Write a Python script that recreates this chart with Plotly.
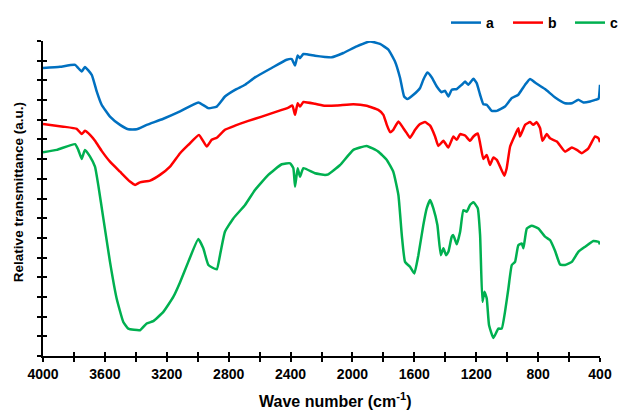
import plotly.graph_objects as go

# Wavenumber (cm-1) and relative transmittance (a.u.)
wn_a = [4000, 3890, 3793, 3750, 3729, 3685, 3653, 3621, 3567, 3502, 3449, 3394, 3330, 3222, 3114,
        2996, 2931, 2877, 2824, 2759, 2694, 2630, 2522, 2425, 2392, 2371, 2354, 2339, 2317, 2242,
        2177, 2134, 2059, 1972, 1886, 1822, 1768, 1725, 1692, 1666, 1645, 1606, 1563, 1542, 1516,
        1487, 1455, 1423, 1401, 1380, 1358, 1326, 1293, 1272, 1251, 1218, 1197, 1175, 1154, 1132,
        1100, 1067, 1014, 970, 928, 906, 884, 852, 820, 755, 690, 626, 582, 540, 507, 464, 432, 410, 400]
t_a = [14.63, 14.69, 14.79, 14.45, 14.68, 14.28, 13.44, 12.76, 12.16, 11.74, 11.52, 11.52, 11.74, 12.05, 12.42,
       12.88, 12.59, 12.67, 13.18, 13.52, 13.78, 14.15, 14.63, 15.05, 15.08, 14.76, 15.27, 15.13, 15.34, 15.25,
       15.19, 15.17, 15.39, 15.73, 15.98, 15.85, 15.56, 14.96, 14.12, 13.18, 13.05, 13.27, 13.61, 14.03, 14.40,
       14.15, 13.69, 13.40, 13.47, 13.18, 13.52, 13.56, 13.78, 13.94, 13.78, 14.08, 13.86, 13.27, 12.79, 12.76,
       12.45, 12.45, 12.67, 13.10, 13.27, 13.52, 13.78, 14.07, 13.89, 13.56, 13.13, 12.84, 12.84, 13.01, 12.88,
       12.93, 13.01, 13.06, 13.78]

wn_b = [4000, 3869, 3782, 3750, 3729, 3696, 3664, 3621, 3567, 3502, 3438, 3405, 3373, 3308, 3244, 3179,
        3114, 3061, 2992, 2942, 2910, 2877, 2824, 2759, 2673, 2586, 2500, 2414, 2388, 2371, 2354, 2339,
        2317, 2242, 2177, 2101, 1994, 1908, 1833, 1800, 1778, 1757, 1736, 1703, 1671, 1649, 1628, 1595,
        1563, 1531, 1498, 1466, 1445, 1412, 1380, 1348, 1326, 1304, 1272, 1240, 1218, 1190, 1175, 1154,
        1132, 1111, 1089, 1067, 1046, 1018, 1003, 981, 949, 928, 917, 884, 852, 831, 809, 787, 772, 744,
        723, 679, 626, 582, 550, 518, 475, 432, 410, 400]
t_b = [11.78, 11.65, 11.54, 11.27, 11.44, 11.23, 10.93, 10.42, 9.87, 9.36, 8.86, 8.69, 8.82, 8.91, 9.20, 9.62,
       10.30, 10.72, 11.23, 10.64, 10.98, 11.09, 11.49, 11.70, 11.94, 12.16, 12.39, 12.62, 12.72, 12.25, 12.84, 12.67,
       12.90, 12.81, 12.71, 12.72, 12.79, 12.71, 12.50, 12.25, 11.74, 11.37, 11.49, 11.91, 11.57, 11.32, 11.09, 11.49,
       11.78, 11.88, 11.70, 11.15, 10.67, 10.93, 10.59, 11.15, 10.98, 11.27, 11.20, 10.93, 11.15, 11.30, 10.81, 10.01,
       10.21, 9.70, 10.08, 9.96, 9.62, 9.16, 9.54, 10.64, 11.23, 11.57, 11.15, 11.74, 11.88, 11.74, 11.88, 11.57, 10.93, 11.27,
       11.06, 10.89, 10.38, 10.59, 10.47, 10.30, 10.55, 11.15, 11.06, 10.86]

wn_c = [4000, 3911, 3793, 3772, 3750, 3729, 3696, 3664, 3643, 3610, 3567, 3524, 3481, 3449, 3373, 3330,
        3287, 3222, 3158, 3114, 3061, 2996, 2964, 2931, 2877, 2856, 2824, 2770, 2694, 2630, 2544, 2457,
        2403, 2382, 2371, 2354, 2339, 2317, 2242, 2177, 2156, 2080, 1994, 1908, 1833, 1778, 1736, 1703,
        1681, 1660, 1628, 1600, 1574, 1542, 1520, 1498, 1477, 1451, 1429, 1412, 1395, 1380, 1358, 1348,
        1326, 1304, 1283, 1261, 1240, 1218, 1190, 1175, 1160, 1147, 1132, 1117, 1089, 1057, 1035, 1014,
        992, 970, 949, 928, 906, 895, 873, 841, 798, 755, 723, 690, 658, 626, 582, 540, 496, 443, 410, 400]
t_c = [10.35, 10.47, 10.76, 10.47, 10.01, 10.47, 10.13, 9.62, 8.69, 6.99, 4.78, 2.92, 1.73, 1.39, 1.31, 1.65,
       1.77, 2.24, 3.00, 3.75, 4.78, 5.94, 5.47, 4.62, 4.40, 5.12, 6.31, 6.99, 7.67, 8.43, 9.20, 9.74,
       9.79, 9.54, 8.60, 9.54, 9.11, 9.54, 9.28, 9.20, 9.23, 9.70, 10.47, 10.67, 10.38, 9.96, 9.36, 8.18,
       6.14, 4.78, 4.53, 4.19, 5.12, 6.65, 7.50, 7.92, 7.50, 6.65, 5.12, 5.47, 5.12, 5.29, 6.06, 6.14,
       5.67, 6.31, 7.41, 7.33, 7.67, 7.81, 7.50, 6.14, 2.75, 3.26, 2.92, 1.56, 0.92, 1.39, 1.39, 2.24,
       3.43, 4.62, 4.78, 5.63, 5.72, 5.47, 6.48, 6.62, 6.48, 6.06, 5.89, 5.33, 4.65, 4.62, 4.78, 5.29, 5.55, 5.84, 5.80, 5.67]

x_ticks = [4000, 3600, 3200, 2800, 2400, 2000, 1600, 1200, 800, 400]
series = [("a", wn_a, t_a, "#0070C0"), ("b", wn_b, t_b, "#FF0000"), ("c", wn_c, t_c, "#00B050")]

FONT = "Liberation Sans, Arial, sans-serif"

fig = go.Figure()
for name, xs, ys, col in series:
    fig.add_trace(go.Scatter(x=xs, y=ys, mode="lines", name=name,
                             line=dict(color=col, width=2.5, shape="spline", smoothing=0.4)))
# helper trace so the overlay axes (inner half of cross tick marks) are drawn
fig.add_trace(go.Scatter(x=[None], y=[None], xaxis="x2", yaxis="y2", showlegend=False,
                         hoverinfo="skip"))

fig.update_layout(
    width=621, height=413,
    margin=dict(l=43, r=21, t=41, b=57, autoexpand=False),
    paper_bgcolor="white", plot_bgcolor="white",
    font=dict(family=FONT, color="black"),
    xaxis=dict(range=[4000, 400], tickvals=x_ticks, ticktext=[str(v) for v in x_ticks],
               showgrid=False, zeroline=False, showline=True, linecolor="black", linewidth=2,
               ticks="outside", ticklen=4, tickwidth=1.5, tickcolor="black",
               minor=dict(tickvals=list(range(3800, 400, -400)), ticks="outside", ticklen=4,
                          tickwidth=1.5, tickcolor="black"),
               tickfont=dict(size=14, family=FONT, weight="bold"),
               automargin=False),
    xaxis2=dict(overlaying="x", range=[4000, 400], tickvals=list(range(4000, 399, -200)),
                showticklabels=False, showgrid=False, zeroline=False, showline=False,
                ticks="inside", ticklen=4, tickwidth=1.5, tickcolor="black", anchor="y2", side="bottom"),
    yaxis=dict(range=[0, 16], tickvals=list(range(0, 17)), showticklabels=False,
               showgrid=False, zeroline=False, showline=True, linecolor="black", linewidth=2,
               ticks="outside", ticklen=4, tickwidth=1.5, tickcolor="black",
               automargin=False),
    yaxis2=dict(overlaying="y", range=[0, 16], tickvals=list(range(0, 17)), showticklabels=False,
                showgrid=False, zeroline=False, showline=False, side="left", anchor="x2",
                ticks="inside", ticklen=4, tickwidth=1.5, tickcolor="black"),
    legend=dict(orientation="h", xref="paper", yref="container", x=(632 - 43) / 557, xanchor="right",
                y=1 - 23 / 413, yanchor="middle", font=dict(size=14, family=FONT, weight="bold"),
                bgcolor="rgba(0,0,0,0)", itemwidth=30, entrywidth=17, entrywidthmode="pixels",
                tracegroupgap=0),
    showlegend=True,
    annotations=[
        dict(text="Wave number (cm<sup>-1</sup>)", xref="paper", yref="paper",
             x=(335 - 43) / 557, y=-(400 - 355.7) / 314.7, xanchor="center", yanchor="middle",
             showarrow=False, font=dict(size=16, family=FONT, weight="bold", color="black")),
        dict(text="Relative transmittance (a.u.)", xref="paper", yref="paper",
             x=-(43 - 18) / 557, y=(355.7 - 192) / 314.7, xanchor="center", yanchor="middle",
             textangle=-90, showarrow=False, font=dict(size=13.5, family=FONT, weight="bold", color="black")),
    ],
)

fig.write_html("out.html")
